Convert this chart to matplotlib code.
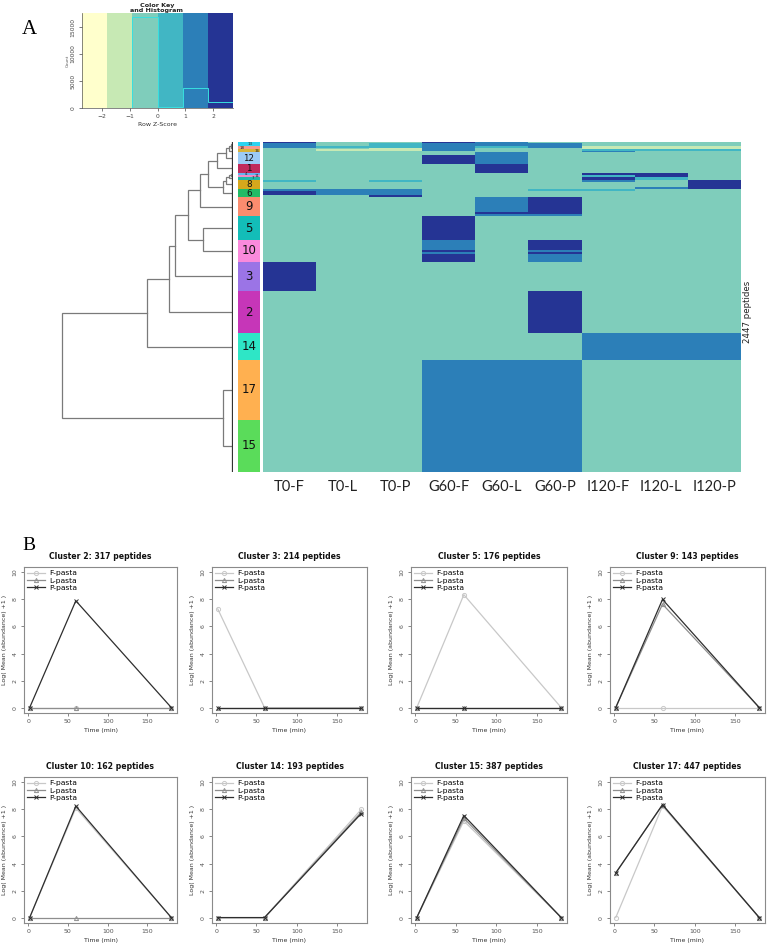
import numpy as np
import matplotlib.pyplot as plt
from matplotlib.colors import ListedColormap, BoundaryNorm

W, H = 767, 948
fig = plt.figure(figsize=(W / 100, H / 100), dpi=100)
fig.patch.set_facecolor('white')


def px_axes(l, t, r, b):
    # axes placed by pixel box (left, top, right, bottom)
    return fig.add_axes([l / W, 1 - b / H, (r - l) / W, (b - t) / H])


# ── Panel A data ────────────────────────────────────────────────
samples = ['T0-F', 'T0-L', 'T0-P', 'G60-F', 'G60-L', 'G60-P', 'I120-F', 'I120-L', 'I120-P']
key_colors = ['#FFFFCC', '#C7E9B4', '#7FCDBB', '#41B6C4', '#2C7FB8', '#253494']
key_breaks = [-2.7, -1.8, -0.9, 0.0, 0.9, 1.8, 2.7]
key_counts = [0, 40, 16900, 150, 3750, 1180]
key_ticks = [-2, -1, 0, 1, 2]

cluster_order = ['13', '18', '16', '12', '1', '4', '11', '7', '8', '6',
                 '9', '5', '10', '3', '2', '14', '17', '15']
cluster_sizes = [30, 22, 23, 90, 62, 17, 15, 20, 72, 57,
                 143, 176, 162, 214, 317, 193, 447, 387]
cluster_colors = ['#2CD3F0', '#F59A8C', '#D8B43A', '#9CCBF5', '#C02A5C', '#63B4F0',
                  '#F08CC8', '#1FB8A8', '#D6A81C', '#22BB66', '#FA8C6E', '#13BDB8',
                  '#FA8ADC', '#9B74E6', '#C636B8', '#2EE6C6', '#FFB050', '#5ADC5A']
small_clusters = ['13', '18', '16', '4', '11', '7']

# colour level per sample column (index into key_colors), blocks of rows per cluster
cluster_blocks = {
    '13': [(10, [5, 2, 2, 5, 4, 2, 2, 2, 2]), (20, [4, 2, 3, 4, 4, 4, 2, 2, 2])],
    '18': [(12, [4, 3, 3, 4, 3, 4, 1, 1, 1]), (10, [2, 2, 1, 4, 2, 2, 1, 1, 1])],
    '16': [(13, [2, 1, 1, 4, 2, 2, 3, 3, 3]), (10, [2, 2, 2, 2, 2, 2, 4, 2, 2])],
    '12': [(20, [2, 2, 2, 2, 4, 2, 2, 2, 2]), (70, [2, 2, 2, 5, 4, 2, 2, 2, 2])],
    '1':  [(62, [2, 2, 2, 2, 5, 2, 2, 2, 2])],
    '4':  [(17, [2, 2, 2, 2, 2, 2, 5, 5, 2])],
    '11': [(15, [2, 2, 2, 2, 2, 2, 3, 5, 2])],
    '7':  [(20, [2, 2, 2, 2, 2, 2, 5, 3, 2])],
    '8':  [(20, [3, 2, 3, 2, 2, 2, 4, 2, 5]), (35, [2, 2, 2, 2, 2, 2, 2, 2, 5]),
           (17, [2, 2, 2, 2, 2, 2, 2, 4, 5])],
    '6':  [(15, [4, 4, 4, 2, 2, 3, 3, 2, 2]), (25, [5, 4, 4, 2, 2, 2, 2, 2, 2]),
           (17, [2, 2, 5, 2, 2, 2, 2, 2, 2])],
    '9':  [(110, [2, 2, 2, 2, 4, 5, 2, 2, 2]), (15, [2, 2, 2, 2, 5, 5, 2, 2, 2]),
           (18, [2, 2, 2, 2, 4, 4, 2, 2, 2])],
    '5':  [(176, [2, 2, 2, 5, 2, 2, 2, 2, 2])],
    '10': [(75, [2, 2, 2, 4, 2, 5, 2, 2, 2]), (15, [2, 2, 2, 5, 2, 4, 2, 2, 2]),
           (15, [2, 2, 2, 4, 2, 5, 2, 2, 2]), (57, [2, 2, 2, 5, 2, 4, 2, 2, 2])],
    '3':  [(214, [5, 2, 2, 2, 2, 2, 2, 2, 2])],
    '2':  [(317, [2, 2, 2, 2, 2, 5, 2, 2, 2])],
    '14': [(193, [2, 2, 2, 2, 2, 2, 4, 4, 4])],
    '17': [(447, [2, 2, 2, 4, 4, 4, 2, 2, 2])],
    '15': [(387, [2, 2, 2, 4, 4, 4, 2, 2, 2])],
}

# dendrogram merges: (node, left, right, height)
merges = [
    ('a', '13', '18', 2), ('b', 'a', '16', 4), ('c', 'b', '12', 7), ('d', 'c', '1', 16),
    ('e', '4', '11', 2), ('f', 'e', '7', 4), ('g', 'f', '8', 7), ('h', 'g', '6', 10),
    ('i', 'd', 'h', 25), ('j', 'i', '9', 33), ('k', '5', '10', 30), ('l', 'j', 'k', 45),
    ('m', 'l', '3', 58), ('n', 'm', '2', 64), ('o', 'n', '14', 86), ('p', '17', '15', 10),
    ('q', 'o', 'p', 171),
]

# ── Panel B data ────────────────────────────────────────────────
time_min = [2, 60, 180]
panel_titles = ['Cluster 2: 317 peptides', 'Cluster 3: 214 peptides',
                'Cluster 5: 176 peptides', 'Cluster 9: 143 peptides',
                'Cluster 10: 162 peptides', 'Cluster 14: 193 peptides',
                'Cluster 15: 387 peptides', 'Cluster 17: 447 peptides']
f_pasta = [[0, 0, 0], [7.3, 0, 0], [0, 8.35, 0], [0, 0, 0],
           [0, 8.1, 0], [0, 0, 8.0], [0, 7.15, 0], [0, 8.25, 0]]
l_pasta = [[0, 0, 0], [0, 0, 0], [0, 0, 0], [0, 7.65, 0],
           [0, 0, 0], [0, 0, 7.8], [0, 7.35, 0], [3.3, 8.35, 0]]
p_pasta = [[0, 7.9, 0], [0, 0, 0], [0, 0, 0], [0, 8.0, 0],
           [0, 8.25, 0], [0, 0, 7.7], [0, 7.55, 0], [3.3, 8.35, 0]]
series_names = ['F-pasta', 'L-pasta', 'P-pasta']
series_cols = ['#C8C8C8', '#8E8E8E', '#2E2E2E']
series_marks = ['o', '^', 'x']

# ─────────────────────────────────────────────────────────────────
# Panel A
# ─────────────────────────────────────────────────────────────────
fig.text(22 / W, 1 - 30 / H, 'A', fontsize=15, family='Liberation Serif', va='center')
fig.text(22 / W, 1 - 545 / H, 'B', fontsize=14, family='Liberation Serif', va='center')

cmap = ListedColormap(key_colors)
lnorm = BoundaryNorm(np.arange(-0.5, 6.5, 1), 6)

# colour key
axk = px_axes(82, 13, 233, 108)
axk.pcolormesh(key_breaks, [0, 17600], [list(range(6))], cmap=cmap, norm=lnorm)
axk.stairs(key_counts, key_breaks, color='#38E0E0', lw=0.7)
axk.set_xlim(key_breaks[0], key_breaks[-1]); axk.set_ylim(0, 17600)
axk.set_xticks(key_ticks); axk.set_yticks([0, 5000, 10000, 15000])
axk.tick_params(labelsize=4.3, length=2.5, width=0.5, colors='#444', pad=2)
axk.tick_params(axis='y', labelrotation=90)
for t in axk.get_yticklabels(): t.set_va('center')
for sp in ['top', 'right']: axk.spines[sp].set_visible(False)
for sp in ['left', 'bottom']:
    axk.spines[sp].set_color('#555'); axk.spines[sp].set_linewidth(0.5)
axk.set_xlabel('Row Z-Score', fontsize=4.5, labelpad=2, color='#333')
axk.set_ylabel('Count', fontsize=3, labelpad=1, color='#555')
fig.text(157 / W, 1 - 8 / H, 'Color Key\nand Histogram', fontsize=4.6, fontweight='bold',
         ha='center', va='center', linespacing=1.1, color='#222')

# heatmap matrix
rows = []
for cl in cluster_order:
    for n, lev in cluster_blocks[cl]:
        rows.append(np.repeat([lev], n, axis=0))
mat = np.vstack(rows)
n_pep = mat.shape[0]

axh = px_axes(263, 142, 741, 472)
axh.imshow(mat, aspect='auto', cmap=cmap, norm=lnorm, interpolation='nearest',
           extent=[0, len(samples), n_pep, 0])
axh.set_xticks(np.arange(len(samples)) + 0.5)
axh.set_xticklabels(samples, fontsize=10.5, family='Lato', color='#222')
axh.tick_params(length=0, pad=6)
axh.set_yticks([])
for sp in axh.spines.values(): sp.set_visible(False)
fig.text(747 / W, 1 - 312 / H, '%d peptides' % n_pep, rotation=90, fontsize=6.2,
         ha='center', va='center', color='#222')

# cluster side bar
sizes = np.array(cluster_sizes)
starts = np.concatenate([[0], np.cumsum(sizes)[:-1]])
centers = starts + sizes / 2
axs = px_axes(238, 142, 260, 472)
axs.barh(centers, 1, height=sizes, color=cluster_colors, left=0)
axs.set_xlim(0, 1); axs.set_ylim(n_pep, 0); axs.axis('off')
small_dx = {'13': 0.55, '18': 0.2, '16': 0.85, '4': 0.35, '11': 0.85, '7': 0.7}
for cl, cy, sz in zip(cluster_order, centers, sizes):
    if cl in small_clusters:
        axs.text(small_dx[cl], cy, cl, fontsize=3.0, ha='center', va='center', color='#222')
    else:
        fs = 8.5 if sz > 100 else 6.3
        axs.text(0.5, cy, cl, fontsize=fs, ha='center', va='center', color='#111')

# dendrogram
axd = px_axes(40, 142, 233, 472)
pos = {cl: (cy, 0) for cl, cy in zip(cluster_order, centers)}
dcol = '#7A7A7A'
for node, a, b, h in merges:
    ya, ha_ = pos[a]; yb, hb = pos[b]
    axd.plot([ha_, h, h, hb], [ya, ya, yb, yb], color=dcol, lw=0.9,
             solid_joinstyle='miter')
    pos[node] = ((ya + yb) / 2, h)
axd.plot([0.6, 0.6], [0, n_pep], color='#333', lw=0.9)
axd.set_xlim(193, 0); axd.set_ylim(n_pep, 0); axd.axis('off')

# ─────────────────────────────────────────────────────────────────
# Panel B
# ─────────────────────────────────────────────────────────────────
col_edges = [(24, 177), (212, 367), (411, 567), (610, 765)]
row_edges = [(567, 713), (777, 923)]

for i, title in enumerate(panel_titles):
    r_i, c_i = divmod(i, 4)
    l, r = col_edges[c_i]; t, b = row_edges[r_i]
    ax = px_axes(l, t, r, b)
    for vals, c, m, nm in zip([f_pasta[i], l_pasta[i], p_pasta[i]],
                              series_cols, series_marks, series_names):
        ax.plot(time_min, vals, color=c, marker=m, ms=3, mfc='none', mew=0.7,
                lw=0.9, label=nm)
    ax.set_xlim(-5.12, 187.12); ax.set_ylim(-0.4, 10.4)
    ax.set_xticks([0, 50, 100, 150]); ax.set_yticks(range(0, 11, 2))
    ax.tick_params(labelsize=4.5, length=2.5, width=0.5, colors='#555', pad=2)
    ax.tick_params(axis='y', labelrotation=90)
    for t_ in ax.get_yticklabels(): t_.set_va('center')
    for sp in ax.spines.values():
        sp.set_color('#8A8A8A'); sp.set_linewidth(0.8)
    ax.set_title(title, fontsize=5.6, fontweight='bold', pad=6, color='#111')
    ax.set_xlabel('Time (min)', fontsize=4.5, labelpad=3, color='#333')
    ax.set_ylabel('Log( Mean (abundance) +1 )', fontsize=4.5, labelpad=4, color='#333')
    ax.legend(loc='upper left', fontsize=5.4, frameon=False, handlelength=2.4,
              borderaxespad=0.2, labelspacing=0.15, handletextpad=0.6,
              borderpad=0.2)

plt.savefig('out.png', dpi=100, facecolor='white')
